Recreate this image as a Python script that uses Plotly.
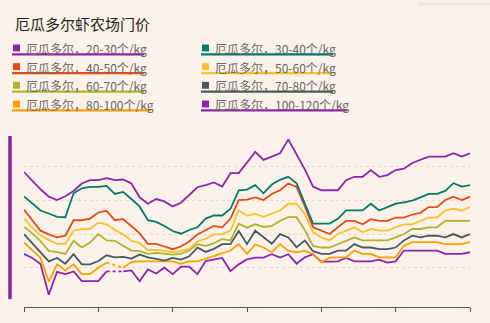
import plotly.graph_objects as go

title = "厄瓜多尔虾农场门价"
labels = ["厄瓜多尔，20-30个/kg", "厄瓜多尔，30-40个/kg", "厄瓜多尔，40-50个/kg", "厄瓜多尔，50-60个/kg",
          "厄瓜多尔，60-70个/kg", "厄瓜多尔，70-80个/kg", "厄瓜多尔，80-100个/kg", "厄瓜多尔，100-120个/kg"]
colors = ["#8e24aa", "#00796b", "#e64a19", "#fbc02d", "#afb42b", "#455a64", "#ffa000", "#8e24aa"]

s20_30 = [4.84, 4.58, 4.33, 4.11, 4.01, 4.12, 4.28, 4.5, 4.6, 4.6, 4.66, 4.6, 4.62, 4.5, 4.09, 3.9, 4.04, 3.97, 3.82,
          3.93, 4.15, 4.39, 4.45, 4.53, 4.41, 4.81, 4.81, 5.13, 5.44, 5.2, 5.29, 5.4, 5.81, 5.35, 4.92, 4.41, 4.3, 4.3,
          4.3, 4.6, 4.7, 4.7, 4.9, 4.7, 4.75, 4.9, 4.94, 5.11, 5.21, 5.3, 5.3, 5.3, 5.4, 5.3, 5.4]
s30_40 = [4.12, 3.9, 3.7, 3.61, 3.51, 3.5, 4.21, 4.36, 4.4, 4.4, 4.43, 4.19, 4.25, 4.04, 3.82, 3.41, 3.36, 3.24, 3.09,
          3.01, 3.12, 3.2, 3.46, 3.55, 3.55, 3.75, 4.3, 4.32, 4.45, 4.21, 4.47, 4.61, 4.7, 4.51, 3.9, 3.31, 3.31, 3.31,
          3.45, 3.7, 3.7, 3.7, 3.9, 3.7, 3.8, 3.9, 3.94, 3.99, 4.09, 4.19, 4.19, 4.28, 4.51, 4.41, 4.45]
s40_50 = [3.73, 3.41, 3.1, 2.99, 2.9, 2.95, 3.41, 3.41, 3.46, 3.64, 3.69, 3.41, 3.44, 3.24, 3.02, 2.71, 2.71, 2.63, 2.55,
          2.63, 2.78, 2.99, 3.12, 3.24, 3.2, 3.46, 4.01, 4.02, 4.09, 4.01, 4.19, 4.3, 4.5, 4.4, 3.83, 3.2, 3.1, 3.0,
          3.2, 3.39, 3.39, 3.29, 3.44, 3.39, 3.39, 3.49, 3.49, 3.58, 3.63, 3.8, 3.8, 4.01, 4.11, 4.01, 4.11]
s50_60 = [3.46, 3.19, 2.96, 2.82, 2.71, 2.71, 3.1, 3.15, 3.15, 3.34, 3.29, 3.12, 2.99, 2.8, 2.73, 2.52, 2.53, 2.49, 2.46,
          2.49, 2.56, 2.78, 2.86, 2.99, 2.99, 3.1, 3.7, 3.55, 3.6, 3.51, 3.6, 3.7, 3.9, 3.9, 3.6, 3.05, 2.9, 2.81,
          3.0, 3.1, 3.2, 3.05, 3.15, 3.1, 3.1, 3.2, 3.29, 3.29, 3.39, 3.49, 3.49, 3.7, 3.75, 3.7, 3.8]
s60_70 = [3.21, 3.02, 2.79, 2.5, 2.46, 2.41, 2.8, 2.6, 2.75, 3.0, 2.81, 2.8, 2.65, 2.51, 2.49, 2.41, 2.44, 2.41, 2.39,
          2.41, 2.51, 2.7, 2.65, 2.73, 2.85, 2.81, 3.31, 3.19, 3.29, 3.21, 3.24, 3.39, 3.5, 3.5, 3.12, 2.65, 2.6, 2.6,
          2.7, 2.81, 2.9, 2.81, 2.81, 2.81, 2.81, 2.9, 3.0, 3.15, 3.15, 3.2, 3.2, 3.39, 3.39, 3.39, 3.39]
s70_80 = [3.0, 2.73, 2.49, 2.19, 2.29, 2.12, 2.4, 2.1, 2.1, 2.2, 2.37, 2.31, 2.32, 2.27, 2.39, 2.31, 2.26, 2.21, 2.29,
          2.24, 2.34, 2.6, 2.47, 2.56, 2.7, 2.7, 3.09, 2.7, 3.1, 2.9, 2.71, 3.0, 2.9, 2.61, 2.81, 2.49, 2.41, 2.41,
          2.51, 2.51, 2.7, 2.6, 2.6, 2.55, 2.55, 2.6, 2.81, 2.95, 2.9, 2.95, 2.95, 2.9, 3.0, 2.9, 3.0]
s80_100 = [2.75, 2.53, 2.29, 1.59, 2.1, 1.92, 2.1, 1.81, 1.81, 2.0, 2.15, None, 2.0, 2.17, 2.19, 2.19, 2.17, 2.19, 2.19,
           2.12, 2.19, 2.19, 2.27, 2.36, 2.44, 2.51, 2.7, 2.41, 2.69, 2.6, 2.46, 2.7, 2.5, 2.46, 2.5, 2.41, 2.16, 2.3,
           2.31, 2.31, 2.51, 2.41, 2.41, 2.31, 2.31, 2.31, 2.65, 2.76, 2.76, 2.76, 2.76, 2.7, 2.7, 2.7, 2.76]
s100_120 = [2.41, 2.29, 2.11, 1.2, 1.88, 1.81, 1.89, 1.6, 1.6, 1.6, 1.89, None, 1.89, 1.92, 1.6, 1.95, 1.83, 2.0, 1.81,
            2.03, 2.03, 1.81, 2.2, 2.24, 2.29, 1.9, 2.1, 2.25, 2.3, 2.3, 2.4, 2.3, 2.4, 2.12, 2.31, 2.4, 2.18, 2.18,
            2.19, 2.29, 2.19, 2.19, 2.19, 2.24, 2.15, 2.19, 2.51, 2.51, 2.51, 2.51, 2.51, 2.41, 2.41, 2.41, 2.46]

series = [s20_30, s30_40, s40_50, s50_60, s60_70, s70_80, s80_100, s100_120]
x = list(range(len(s20_30)))
tick_positions = list(range(0, len(x), 9))
grid_values = [2, 3, 4, 5]

BG = "#fdf2e9"
FONT = "Noto Sans CJK SC, Noto Sans, sans-serif"
LW = 1.8

fig = go.Figure()
for name, col, ys in reversed(list(zip(labels, colors, series))):
    fig.add_trace(go.Scatter(x=x, y=ys, mode="lines", name=name, connectgaps=False,
                             line=dict(color=col, width=LW), showlegend=False, hoverinfo="skip"))
    # dashed bridge over missing points
    for i, v in enumerate(ys):
        if v is None and 0 < i < len(ys) - 1 and ys[i - 1] is not None and ys[i + 1] is not None:
            fig.add_trace(go.Scatter(x=[x[i - 1], x[i + 1]], y=[ys[i - 1], ys[i + 1]], mode="lines",
                                     line=dict(color=col, width=LW, dash="3px,3px"),
                                     showlegend=False, hoverinfo="skip"))

W, H = 490, 323
ml, mr, mt, mb = 24, 20, 133, 13
fig.update_layout(
    width=W, height=H, margin=dict(l=ml, r=mr, t=mt, b=mb),
    paper_bgcolor=BG, plot_bgcolor=BG,
    font=dict(family=FONT, color="#666"),
    xaxis=dict(range=[0, len(x) - 1], showgrid=False, zeroline=False, showline=True, linecolor="#555",
               linewidth=1.2, ticks="outside", ticklen=4, tickcolor="#555", tickvals=tick_positions,
               showticklabels=False, fixedrange=True),
    yaxis=dict(range=[0.834, 6.0], showgrid=True, gridcolor="#e3d9d0", griddash="dot", gridwidth=1,
               tickvals=grid_values, showticklabels=False, zeroline=False, showline=False, fixedrange=True),
    showlegend=False,
)

pw = W - ml - mr
ph = H - mt - mb

def fx(p):
    return (p - ml) / pw

def fy(p):
    return (H - mb - p) / ph

def text_width(s, size=12):
    w = 0
    for ch in s:
        if ord(ch) > 0x2000:
            w += size * 0.98
        elif ch == "-":
            w += size * 0.42
        elif ch == "/":
            w += size * 0.36
        else:
            w += size * 0.56
    return w

anns = []
shapes = []
anns.append(dict(text=title, xref="paper", yref="paper", x=fx(13), y=fy(22), xanchor="left", yanchor="middle",
                 showarrow=False, font=dict(size=15, color="#222", family=FONT)))

col_x = [13, 202]
row_y = [47, 66, 85, 104]
for k, (name, col) in enumerate(zip(labels, colors)):
    cx = col_x[k % 2]
    cy = row_y[k // 2]
    shapes.append(dict(type="rect", xref="paper", yref="paper", x0=fx(cx), x1=fx(cx + 7),
                       y0=fy(cy + 3), y1=fy(cy - 4), fillcolor=col, line=dict(width=0), layer="above"))
    anns.append(dict(text=name, xref="paper", yref="paper", x=fx(cx + 11), y=fy(cy), xanchor="left",
                     yanchor="middle", showarrow=False, font=dict(size=12, color="#666", family=FONT)))
    tw = text_width(name)
    shapes.append(dict(type="line", xref="paper", yref="paper", x0=fx(cx - 1), x1=fx(cx + 11 + tw),
                       y0=fy(cy + 6), y1=fy(cy + 6), line=dict(color=col, width=2.2)))

# left decorative bar
shapes.append(dict(type="line", xref="paper", yref="paper", x0=fx(10), x1=fx(10), y0=fy(136), y1=fy(302),
                   line=dict(color="#8e24aa", width=3.5)))
# faint top-right block
shapes.append(dict(type="rect", xref="paper", yref="paper", x0=fx(418), x1=fx(490), y0=fy(3), y1=fy(0),
                   fillcolor="#ebe6e2", line=dict(width=0)))

fig.update_layout(annotations=anns, shapes=shapes)
fig.write_html("out.html")
